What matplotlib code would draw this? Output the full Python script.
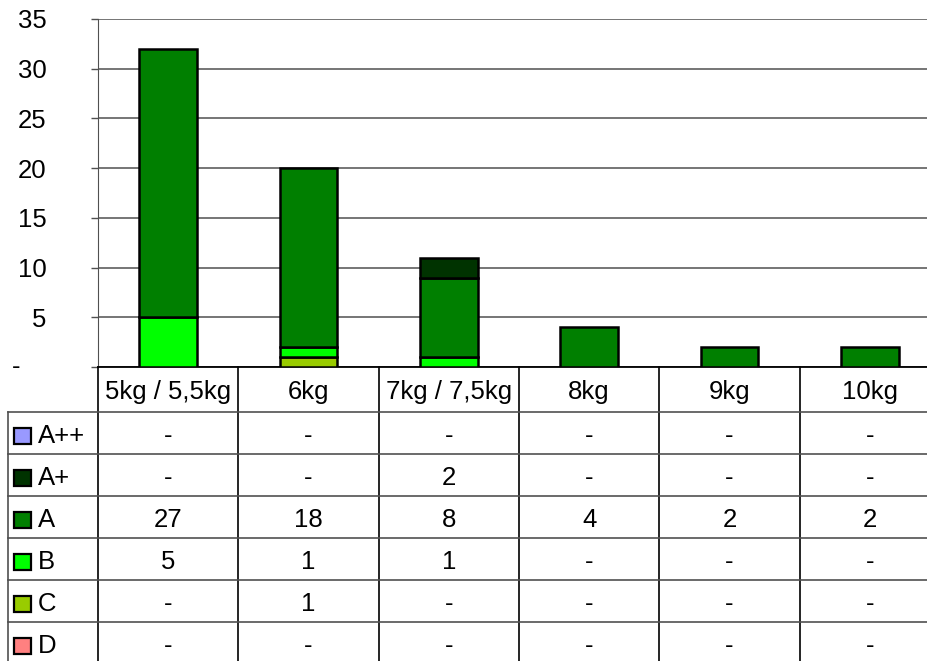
import matplotlib.pyplot as plt
from matplotlib.patches import Rectangle

plt.rcParams['font.family'] = ['Liberation Sans', 'DejaVu Sans']

categorias = ["5kg / 5,5kg", "6kg", "7kg / 7,5kg", "8kg", "9kg", "10kg"]
clases = ["A++", "A+", "A", "B", "C", "D"]
valores = {
    "A++": [0, 0, 0, 0, 0, 0],
    "A+": [0, 0, 2, 0, 0, 0],
    "A": [27, 18, 8, 4, 2, 2],
    "B": [5, 1, 1, 0, 0, 0],
    "C": [0, 1, 0, 0, 0, 0],
    "D": [0, 0, 0, 0, 0, 0],
}
colores = {
    "A++": "#9999FF",
    "A+": "#003300",
    "A": "#007F00",
    "B": "#00FF00",
    "C": "#99CC00",
    "D": "#FF8080",
}
marcas_y = [0, 5, 10, 15, 20, 25, 30, 35]

W, H = 928, 661
FS = 18.5
GRIS = "#505050"

fig = plt.figure(figsize=(W / 100, H / 100), dpi=100)
ax_left, ax_right, ax_top, ax_bot = 98, 940, 19, 367
ax = fig.add_axes([ax_left / W, 1 - ax_bot / H, (ax_right - ax_left) / W, (ax_bot - ax_top) / H])

x = list(range(len(categorias)))
ax.set_xlim(-0.5, len(categorias) - 0.5)
ax.set_ylim(0, 35)

# barras apiladas, de abajo (D) hacia arriba (A++)
base = [0] * len(categorias)
for clase in clases[::-1]:
    for i, v in enumerate(valores[clase]):
        if v > 0:
            ax.bar(x[i], v, bottom=base[i], width=0.41, color=colores[clase],
                   edgecolor="black", linewidth=1.8, zorder=3)
        base[i] += v

ax.set_yticks(marcas_y)
ax.set_yticklabels(["" if m == 0 else str(m) for m in marcas_y], fontsize=FS)
ax.tick_params(axis="y", length=5, color=GRIS, width=1, pad=32)
ax.tick_params(axis="x", length=0, labelbottom=False)
ax.yaxis.grid(True, color=GRIS, linewidth=1.1, zorder=0)
for s in ["top", "right"]:
    ax.spines[s].set_visible(False)
ax.spines["left"].set_color(GRIS)
ax.spines["bottom"].set_color("black")
ax.spines["bottom"].set_linewidth(1.3)
ax.text(-0.5 - 86 / 140.2, 0, "-", fontsize=FS, ha="left", va="center")

# tabla de datos debajo del grafico (coordenada y en pixeles bajo el eje)
alto_tabla = H - ax_bot
tab = fig.add_axes([ax_left / W, 0, (ax_right - ax_left) / W, alto_tabla / H], sharex=ax)
tab.set_ylim(alto_tabla, 0)
tab.axis("off")
cab = 45
fila = 42
px = 1 / 140.2
x_izq = -0.5 - 90 * px

for i, cat in enumerate(categorias):
    tab.text(x[i], cab / 2 + 2, cat, fontsize=FS, ha="center", va="center")

for k in range(len(categorias)):
    tab.plot([k - 0.5, k - 0.5], [0, alto_tabla], color="black", linewidth=1.2, clip_on=False)
tab.plot([x_izq, x_izq], [cab, alto_tabla], color=GRIS, linewidth=1.2, clip_on=False)

for j, clase in enumerate(clases):
    y0 = cab + fila * j
    tab.plot([x_izq, 5.5], [y0, y0], color=GRIS, linewidth=1.2, clip_on=False)
    yc = y0 + fila / 2 + 3
    tab.add_patch(Rectangle((x_izq + 6 * px, yc - 8), 17 * px, 16, facecolor=colores[clase],
                            edgecolor="black", linewidth=1.6, clip_on=False))
    tab.text(x_izq + 30 * px, yc, clase, fontsize=FS, ha="left", va="center")
    for i, v in enumerate(valores[clase]):
        tab.text(x[i], yc, str(v) if v > 0 else "-", fontsize=FS, ha="center", va="center")

fig.savefig("out.png", dpi=100)
